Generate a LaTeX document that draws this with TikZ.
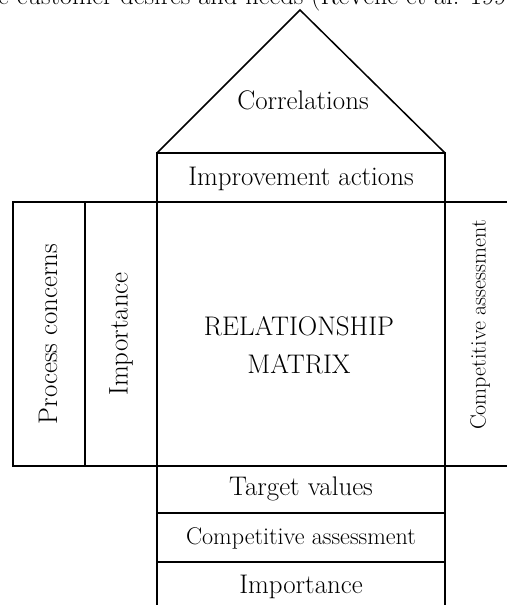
\documentclass[tikz,border=0pt]{standalone}
\usetikzlibrary{positioning}
\begin{document}
\begin{tikzpicture}[x=1bp,y=-1bp,
  box/.style={draw, line width=1.8bp, inner sep=0pt, outer sep=0pt},
  lbl/.style={font=\fontsize{27}{38}\selectfont, align=center, inner sep=0pt},
  smlbl/.style={font=\fontsize{24.2}{29}\selectfont, align=center, inner sep=0pt},
  rlbl/.style={font=\fontsize{22.1}{26}\selectfont, inner sep=0pt, rotate=90},
  roof/.style={draw, line width=1.5bp, line join=miter}]
\useasboundingbox (0,0) rectangle (507,605);
\clip (0,0) rectangle (507,605);
% cropped caption fragment at the top
\node[anchor=base west, font=\fontsize{26.5}{30}\selectfont, inner sep=0pt] (cap) at (-2,5)
  {e customer desires and needs (ReVelle et al. 1998)};
% boxes
\node[box, minimum width=288bp, minimum height=49bp] (ia) at (301,177.5) {};
\node[box, minimum width=288bp, minimum height=264bp] (rm) at (301,334) {};
\node[box, minimum width=72bp, minimum height=264bp] (imp) at (121,334) {};
\node[box, minimum width=72bp, minimum height=264bp] (pc) at (49,334) {};
\node[box, minimum width=80bp, minimum height=264bp] (car) at (485,334) {};
\node[box, minimum width=288bp, minimum height=47bp] (tv) at (301,489.5) {};
\node[box, minimum width=288bp, minimum height=49bp] (cab) at (301,537.5) {};
\node[box, minimum width=288bp, minimum height=60bp] (ib) at (301,592) {};
% roof
\coordinate (apex) at (300,10);
\draw[roof] (ia.north west) -- (apex) -- (ia.north east);
% labels
\node[lbl] (tcor) at (303,100) {Correlations};
\node[lbl] (tia) at (301,179) {Improvement actions};
\node[lbl] (trm) at (299,345) {RELATIONSHIP\\MATRIX};
\node[lbl, rotate=90] (tpc) at (48,334) {Process concerns};
\node[lbl, rotate=90] (timp) at (121,334) {Importance};
\node[rlbl] (tcar) at (480,325) {Competitive assessment};
\node[lbl] (ttv) at (301,489) {Target values};
\node[smlbl] (tcab) at (301,538) {Competitive assessment};
\node[lbl] (tib) at (301,587) {Importance};
\end{tikzpicture}
\end{document}
